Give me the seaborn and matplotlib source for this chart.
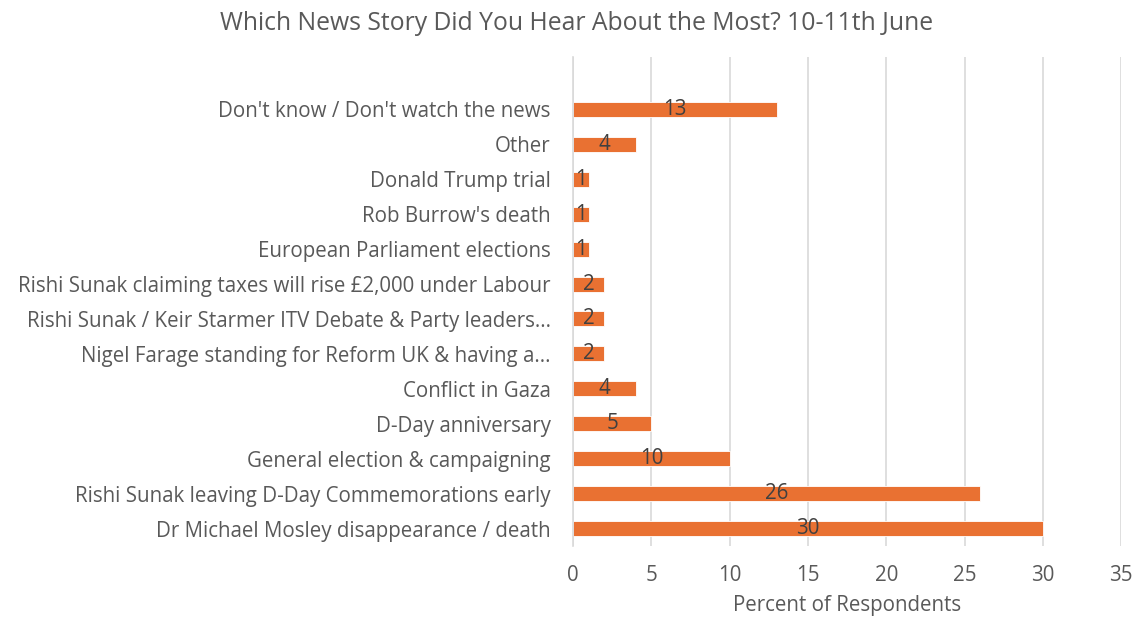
import matplotlib
matplotlib.use("Agg")
import matplotlib.pyplot as plt
import seaborn as sns
import pandas as pd

categories = [
    "Don't know / Don't watch the news",
    "Other",
    "Donald Trump trial",
    "Rob Burrow's death",
    "European Parliament elections",
    "Rishi Sunak claiming taxes will rise £2,000 under Labour",
    "Rishi Sunak / Keir Starmer ITV Debate & Party leaders...",
    "Nigel Farage standing for Reform UK & having a...",
    "Conflict in Gaza",
    "D-Day anniversary",
    "General election & campaigning",
    "Rishi Sunak leaving D-Day Commemorations early",
    "Dr Michael Mosley disappearance / death",
]
values = [13, 4, 1, 1, 1, 2, 2, 2, 4, 5, 10, 26, 30]
x_ticks = [0, 5, 10, 15, 20, 25, 30, 35]

title = "Which News Story Did You Hear About the Most? 10-11th June"
x_label = "Percent of Respondents"

sns.set_theme(style="white")
plt.rcParams['font.family'] = ['Open Sans', 'DejaVu Sans']

TEXT = "#595959"
BAR = "#E97132"
GRID = "#D9D9D9"
FS = 14.8

df = pd.DataFrame({"category": categories, "value": values})

fig = plt.figure(figsize=(11.37, 6.17), dpi=100)
ax = fig.add_axes([0.504, 0.1151, 0.482, 0.7925])

sns.barplot(data=df, y="category", x="value", order=categories, orient="h",
            color=BAR, saturation=1, width=0.43, edgecolor="white",
            linewidth=0.6, ax=ax)

ax.set_xlim(0, 35)
ax.set_ylim(12.5, -1.5)
ax.set_xticks(x_ticks)
ax.set_xticklabels([str(t) for t in x_ticks])
ax.xaxis.grid(True, color=GRID, linewidth=1.2)
ax.set_axisbelow(True)
for s in ["top", "right", "bottom"]:
    ax.spines[s].set_visible(False)
ax.spines["left"].set_color(GRID)
ax.spines["left"].set_linewidth(1.2)
ax.tick_params(axis="both", length=0, colors=TEXT, labelsize=FS)
ax.tick_params(axis="y", pad=16)
ax.tick_params(axis="x", pad=14)
ax.set_ylabel("")
ax.set_xlabel(x_label, color=TEXT, fontsize=FS, labelpad=6)

for c in ax.containers:
    ax.bar_label(c, labels=[str(v) for v in values], label_type="center",
                 color="#404040", fontsize=FS)

fig.suptitle(title, x=0.507, y=0.982, color=TEXT, fontsize=17.8, va="top")

fig.savefig("out.png", dpi=100, facecolor="white")
